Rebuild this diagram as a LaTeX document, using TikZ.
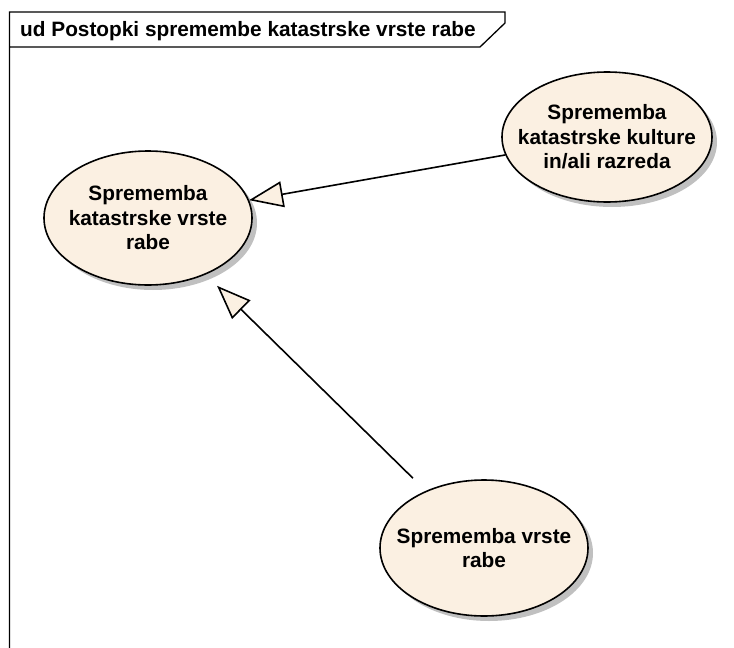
\documentclass[tikz,border=0pt]{standalone}
\usepackage{fontspec}
\setmainfont{Liberation Sans}
\usetikzlibrary{shapes.geometric,shadows,arrows.meta}
\definecolor{ucfill}{RGB}{251,240,226}
\definecolor{ucshadow}{RGB}{192,192,192}
\tikzset{
  usecase/.style={ellipse,draw,line width=1.6pt,fill=ucfill,
    minimum width=208pt,minimum height=134pt,inner xsep=-30pt,inner ysep=-20pt,
    align=center,font=\fontsize{20.8}{24.5}\selectfont\bfseries,
    drop shadow={shadow xshift=5pt,shadow yshift=-5pt,fill=ucshadow,opacity=1}},
  generalize/.style={line width=1.6pt,
    -{Triangle[length=34pt,width=26pt,fill=ucfill,line width=1.6pt]}}
}
\begin{document}
\begin{tikzpicture}[x=1pt,y=-1pt]
\useasboundingbox (0,0) rectangle (734,648);
% diagram frame with its name tab
\draw[line width=1.3pt] (9.5,648) -- (9.5,12) -- (505,12) -- (505,23) -- (480,47) -- (9.5,47);
\node[anchor=base west,inner sep=0pt,font=\fontsize{20.8}{24}\selectfont\bfseries] (title) at (20,36.5)
  {ud Postopki spremembe katastrske vrste rabe};

% use cases
\node[usecase] (vrsta) at (148,218) {Sprememba\\katastrske vrste\\rabe};
\node[usecase,minimum width=210pt,minimum height=130pt] (kultura) at (607,137)
  {Sprememba\\katastrske kulture\\in/ali razreda};
\node[usecase,minimum height=136pt] (rabe) at (484,548) {Sprememba vrste\\rabe};

% generalizations
\draw[generalize] (kultura) -- (vrsta);
\draw[generalize,shorten <=18pt,shorten >=16pt] (rabe) -- (vrsta);
\end{tikzpicture}
\end{document}
